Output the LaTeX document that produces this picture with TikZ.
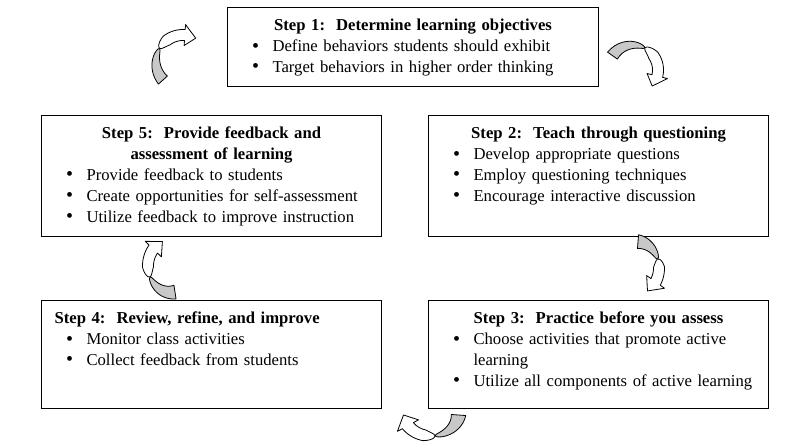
\documentclass[tikz,border=0pt]{standalone}
\usepackage{fontspec}
\setmainfont{Liberation Serif}

\definecolor{arrowgray}{RGB}{200,200,200}

\newcommand{\steptitle}[1]{{\centering\bfseries #1\par}}
\newcommand{\stepitem}[1]{\par\hangindent=33.75pt\hangafter=1\noindent\hspace*{18.5pt}\makebox[15.25pt][l]{\raisebox{-0.4pt}{\fontsize{15}{15}\selectfont\textbullet}}#1}

\begin{document}
\begin{tikzpicture} [
  x=0.75pt, y=0.75pt,
  stepbox/.style= {draw,line width=0.8pt,anchor=north west,inner sep=0pt,
    text width=255pt,align=left,text height=17.5pt,
    font=\fontsize{12.5}{15.6}\selectfont},
  arrowline/.style= {draw=black,line width=0.6pt,line join=round},
  % #1 tail angle, #2 tip angle, #3 radius (clockwise)
  pics/bentarrow/.style n args={3}{code={
    \pgfmathsetmacro\tw{#1+0.45*(#2-#1)}
    \pgfmathsetmacro\hb{#2+650/#3}
    \filldraw[arrowline,fill=arrowgray]
      plot[domain=0:1,samples=30] ({#1+(\tw-#1)*\x}:{#3+6*(1-\x)^0.5})
      -- plot[domain=0:1,samples=30] ({\tw+(#1-\tw)*\x}:{#3-6*\x^0.5})
      -- cycle;
    \filldraw[arrowline,fill=white]
      plot[domain=0:1,samples=30] ({\tw+(\hb-\tw)*\x}:{#3+5.5*min(1,\x/0.35)^0.5})
      -- ({\hb}:{#3+10.5}) -- ({#2}:{#3}) -- ({\hb}:{#3-10.5})
      -- plot[domain=0:1,samples=30] ({\hb+(\tw-\hb)*\x}:{#3-5.5*min(1,(1-\x)/0.35)^0.5})
      -- cycle;
  }},
]
\useasboundingbox (0,0) rectangle (806,-448);

\node (s1) [stepbox,text width=278.25pt,text depth=41.75pt] at (227,-7) {
  \steptitle{Step 1:\ \ Determine learning objectives}
  \stepitem{Define behaviors students should exhibit}
  \stepitem{Target behaviors in higher order thinking}};
\node (s5) [stepbox,text depth=73.25pt] at (41,-115) {
  \steptitle{Step 5:\ \ Provide feedback and\par assessment of learning}
  \stepitem{Provide feedback to students}
  \stepitem{Create opportunities for self-assessment}
  \stepitem{Utilize feedback to improve instruction}};
\node (s2) [stepbox,text depth=73.25pt] at (428,-115) {
  \steptitle{Step 2:\ \ Teach through questioning}
  \stepitem{Develop appropriate questions}
  \stepitem{Employ questioning techniques}
  \stepitem{Encourage interactive discussion}};
\node (s4) [stepbox,text depth=63.5pt] at (41,-300) {
  \noindent\hspace*{9.75pt}\textbf{Step 4:\ \ Review, refine, and improve}
  \stepitem{Monitor class activities}
  \stepitem{Collect feedback from students}};
\node (s3) [stepbox,text depth=63.5pt] at (428,-300) {
  \steptitle{Step 3:\ \ Practice before you assess}
  \stepitem{Choose activities that promote active learning}
  \stepitem{Utilize all components of active learning}};

% curved block arrows round the cycle
\pic at (183,-62) {bentarrow={222}{62}{27}};
\pic at (633,-70) {bentarrow={145}{-40}{25}};
\pic[yscale=1.15] at (636,-268) {bentarrow={85}{-60}{23}};
\pic[xscale=1.2] at (431,-413) {bentarrow={-5}{-175}{23}};
\pic[yscale=1.15] at (171,-266) {bentarrow={280}{112}{23}};
\end{tikzpicture}
\end{document}
